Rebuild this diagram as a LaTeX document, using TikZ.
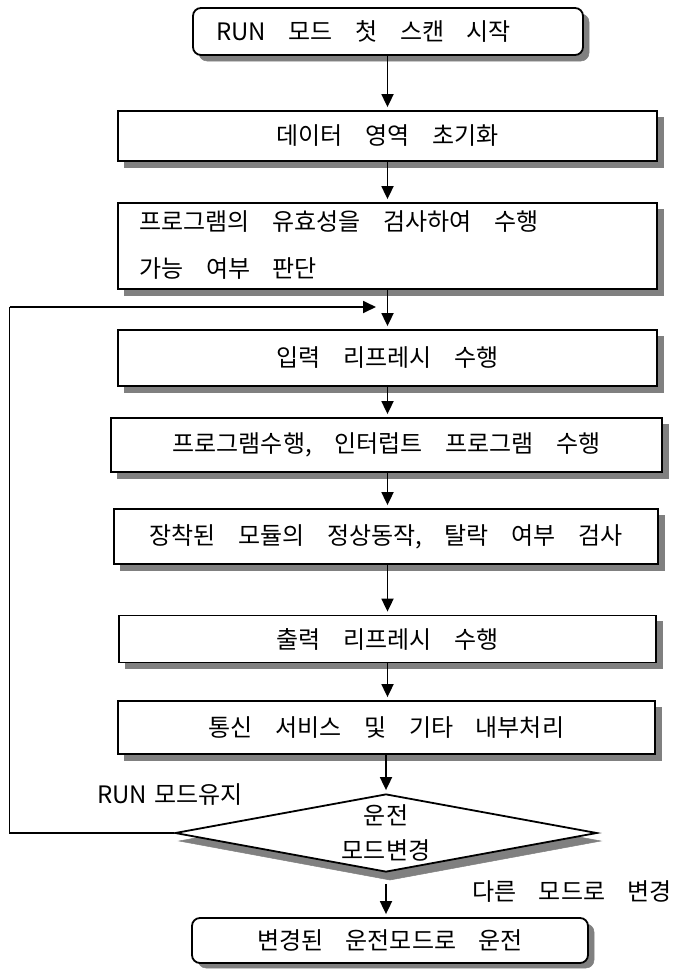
\documentclass[tikz,border=0pt]{standalone}
\usepackage{fontspec}
\setmainfont{Noto Sans CJK KR}[WordSpace=4.2]
\newfontfamily\narrowsp{Noto Sans CJK KR}[WordSpace=1.3]
\usetikzlibrary{arrows.meta,shapes.geometric}
\definecolor{shd}{RGB}{128,128,128}
\begin{document}
\begin{tikzpicture}[x=1pt,y=-1pt,
  font=\fontsize{24}{34}\selectfont,
  box/.style={draw,line width=1.8pt,fill=white,inner sep=0pt},
  rbox/.style={box,rounded corners=8pt},
  dec/.style={draw,line width=1.8pt,fill=white,diamond,inner sep=0pt,aspect=5.4,align=center},
  arr/.style={line width=1.8pt,-{Triangle[length=13pt,width=12pt]},shorten >=3pt},
  lbl/.style={inner sep=0pt},
  shadowfill/.style={fill=shd,draw=shd,line width=0.5pt}
]
\useasboundingbox (0,0) rectangle (684,969);
% shadows (drawn first, offset right and down)
\path[shadowfill,rounded corners=8pt] (199,14) rectangle (589,61);
\path[shadowfill] (124,117) rectangle (663,167);
\path[shadowfill] (124,209) rectangle (663,295);
\path[shadowfill] (124,336) rectangle (663,392);
\path[shadowfill] (117,424) rectangle (668,478);
\path[shadowfill] (120,515) rectangle (664,570);
\path[shadowfill] (125,621) rectangle (662,668);
\path[shadowfill] (124,707) rectangle (661,760);
\path[shadowfill] (179,841) -- (390,802) -- (601,841) -- (390,880) -- cycle;
\path[shadowfill,rounded corners=8pt] (198,924) rectangle (594,968);
% nodes
\node[rbox,minimum width=390pt,minimum height=47pt] (b1) at (388,31.5) {};
\node[lbl,anchor=west] (t1) at ([xshift=24pt]b1.west) {RUN 모드 첫 스캔 시작};
\node[box,minimum width=539pt,minimum height=50pt] (b2) at (387.5,136) {데이터 영역 초기화};
\node[box,minimum width=539pt,minimum height=86pt] (b3) at (387.5,246) {};
\node[lbl,anchor=west,align=left,font=\fontsize{24}{47.5}\selectfont] (t3) at ([xshift=22pt,yshift=1pt]b3.west) {프로그램의 유효성을 검사하여 수행\\가능 여부 판단};
\node[box,minimum width=539pt,minimum height=56pt] (b4) at (387.5,358) {입력 리프레시 수행};
\node[box,minimum width=551pt,minimum height=54pt] (b5) at (386.5,445) {프로그램수행, 인터럽트 프로그램 수행};
\node[box,minimum width=544pt,minimum height=55pt] (b6) at (386,536.5) {장착된 모듈의 정상동작, 탈락 여부 검사};
\node[box,minimum width=537pt,minimum height=47pt] (b7) at (387.5,639) {출력 리프레시 수행};
\node[box,minimum width=537pt,minimum height=53pt] (b8) at (386.5,727.5) {통신 서비스 및 기타 내부처리};
\node[dec,minimum width=422pt,minimum height=78pt,font=\fontsize{24}{34.5}\selectfont] (d) at (386,833) {운전\\모드변경};
\node[rbox,minimum width=396pt,minimum height=45pt] (b9) at (390,940.5) {변경된 운전모드로 운전};
\node[lbl,anchor=west,font=\fontsize{24}{34}\narrowsp] (l1) at (97,795) {RUN 모드유지};
\node[lbl,anchor=west] (l2) at (472,892) {다른 모드로 변경};
\coordinate (lpA) at (9.5,833);
\coordinate (lpB) at (9.5,307);
\coordinate (lpC) at (376,307);
\draw[arr] (b1.south -| b2.north) -- (b2.north);
\draw[arr] (b2.south) -- (b3.north);
\draw[arr] (b3.south) -- (b4.north);
\draw[arr] (b4.south) -- (b4.south |- b5.north);
\draw[arr] (b4.south |- b5.south) -- (b4.south |- b6.north);
\draw[arr] (b4.south |- b6.south) -- (b4.south |- b7.north);
\draw[arr] (b4.south |- b7.south) -- (b4.south |- b8.north);
\draw[arr] (b8.south -| d.north) -- (d.north);
\draw[arr] ([yshift=-11pt]d.south) -- (d.south |- b9.north);
\draw[line width=1.8pt] (d.west) -- (lpA) -- (lpB);
\draw[arr,shorten >=0pt] (lpB) -- (lpC);
\end{tikzpicture}
\end{document}
